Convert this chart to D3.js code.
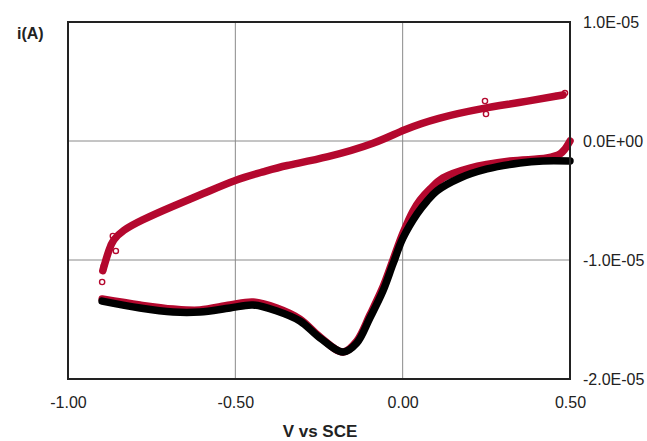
<!DOCTYPE html>
<html>
<head>
<meta charset="utf-8">
<script src="https://cdn.jsdelivr.net/npm/d3@7"></script>
<style>
  html, body { margin: 0; padding: 0; background: #fff; }
  svg { display: block; }
  text { font-family: "Liberation Sans", Arial, sans-serif; fill: #222; }
</style>
</head>
<body>
<svg id="chart" width="647" height="441"></svg>
<script>
// ---- data (V vs SCE, current in A) ----
const xTicks = [-1.0, -0.5, 0.0, 0.5];
const yTicks = [1e-5, 0, -1e-5, -2e-5];
const yTickLabels = ["1.0E-05", "0.0E+00", "-1.0E-05", "-2.0E-05"];

// red: return (upper) branch
const redUpperV = [-0.896, -0.888, -0.878, -0.866, -0.836, -0.785, -0.686, -0.597, -0.501, -0.411, -0.358, -0.226, -0.077, 0.001, 0.102, 0.240, 0.342, 0.479];
const redUpperI = [-10.9e-6, -10.1e-6, -9.2e-6, -8.3e-6, -7.5e-6, -6.7e-6, -5.46e-6, -4.45e-6, -3.25e-6, -2.55e-6, -2.10e-6, -1.40e-6, -0.17e-6, 0.95e-6, 1.93e-6, 2.77e-6, 3.19e-6, 3.87e-6];

// red: forward (lower) branch
const redLowerV = [-0.898, -0.785, -0.686, -0.606, -0.516, -0.447, -0.376, -0.307, -0.247, -0.178, -0.137, -0.098, -0.059, -0.029, 0.001, 0.031, 0.052, 0.082, 0.120, 0.201, 0.321, 0.431, 0.470, 0.485, 0.500];
const redLowerI = [-13.28e-6, -13.78e-6, -14.12e-6, -14.20e-6, -13.78e-6, -13.53e-6, -14.03e-6, -14.96e-6, -16.47e-6, -17.73e-6, -16.81e-6, -14.62e-6, -12.27e-6, -10.00e-6, -7.73e-6, -5.88e-6, -4.96e-6, -4.03e-6, -3.11e-6, -2.27e-6, -1.68e-6, -1.43e-6, -1.09e-6, -0.67e-6, 0.0];

// red scattered points (isolated markers)
const redScatterV = [-0.898, -0.866, -0.857, -0.893, 0.246, 0.249, 0.458, 0.485];
const redScatterI = [-11.85e-6, -7.98e-6, -9.24e-6, -10.5e-6, 3.36e-6, 2.27e-6, 3.78e-6, 4.03e-6];

// black series
const blackV = [-0.898, -0.785, -0.686, -0.606, -0.516, -0.447, -0.376, -0.307, -0.247, -0.178, -0.137, -0.098, -0.059, -0.029, 0.001, 0.043, 0.073, 0.102, 0.171, 0.252, 0.350, 0.419, 0.500];
const blackI = [-13.45e-6, -14.03e-6, -14.37e-6, -14.37e-6, -14.03e-6, -13.78e-6, -14.29e-6, -15.13e-6, -16.55e-6, -17.73e-6, -16.97e-6, -14.87e-6, -12.61e-6, -10.34e-6, -8.15e-6, -6.13e-6, -5.04e-6, -4.20e-6, -3.11e-6, -2.35e-6, -1.85e-6, -1.68e-6, -1.68e-6];

// ---- layout ----
const svg = d3.select("#chart");
const mLeft = 68, mRight = 570, mTop = 22, mBottom = 379;
const RED = "#b4082e";

const x = d3.scaleLinear().domain([-1.0, 0.5]).range([mLeft, mRight]);
const y = d3.scaleLinear().domain([-2e-5, 1e-5]).range([mBottom, mTop]);

// gridlines
const g = svg.append("g");
g.selectAll("line.vx").data(xTicks).enter().append("line")
  .attr("x1", d => x(d)).attr("x2", d => x(d))
  .attr("y1", mTop).attr("y2", mBottom)
  .attr("stroke", "#8a8a8a").attr("stroke-width", 1);
g.selectAll("line.hy").data(yTicks).enter().append("line")
  .attr("x1", mLeft).attr("x2", mRight)
  .attr("y1", d => y(d)).attr("y2", d => y(d))
  .attr("stroke", "#8a8a8a").attr("stroke-width", 1);

// series
const zip = (a, b) => a.map((v, i) => [v, b[i]]);
const line = d3.line().x(d => x(d[0])).y(d => y(d[1])).curve(d3.curveCatmullRom.alpha(0.5));
const smooth = d3.line().x(d => x(d[0])).y(d => y(d[1])).curve(d3.curveBasis);

const plot = svg.append("g");
plot.append("path").datum(zip(redUpperV, redUpperI))
  .attr("d", smooth).attr("fill", "none").attr("stroke", RED)
  .attr("stroke-width", 7.5).attr("stroke-linecap", "round").attr("stroke-linejoin", "round");
plot.append("path").datum(zip(redLowerV, redLowerI))
  .attr("d", line).attr("fill", "none").attr("stroke", RED)
  .attr("stroke-width", 7.5).attr("stroke-linecap", "round").attr("stroke-linejoin", "round");
plot.selectAll("circle.rs").data(zip(redScatterV, redScatterI)).enter().append("circle")
  .attr("cx", d => x(d[0])).attr("cy", d => y(d[1])).attr("r", 2.6)
  .attr("fill", "none").attr("stroke", RED).attr("stroke-width", 1.4);
plot.append("path").datum(zip(blackV, blackI))
  .attr("d", line).attr("fill", "none").attr("stroke", "#000")
  .attr("stroke-width", 7.5).attr("stroke-linecap", "round").attr("stroke-linejoin", "round");

// frame
svg.append("rect").attr("x", mLeft).attr("y", mTop)
  .attr("width", mRight - mLeft).attr("height", mBottom - mTop)
  .attr("fill", "none").attr("stroke", "#222").attr("stroke-width", 2);

// axes (labels only, via d3 axes)
const xAxis = d3.axisBottom(x).tickValues(xTicks).tickFormat(d3.format(".2f")).tickSize(0).tickPadding(0);
const xg = svg.append("g").attr("transform", `translate(0,${mBottom + 29})`).call(xAxis);
xg.select(".domain").remove();
xg.selectAll("text").attr("dy", null).attr("y", 0)
  .text(d => d3.format(".2f")(d).replace("\u2212", "-"))
  .style("font-size", "16px").style("font-family", "'Liberation Sans', Arial, sans-serif").attr("fill", "#222");

const yAxis = d3.axisRight(y).tickValues(yTicks).tickFormat((d, i) => yTickLabels[i]).tickSize(0).tickPadding(13);
const yg = svg.append("g").attr("transform", `translate(${mRight},0)`).call(yAxis);
yg.select(".domain").remove();
yg.selectAll("text").attr("dy", "0.36em")
  .style("font-size", "16px").style("font-family", "'Liberation Sans', Arial, sans-serif").attr("fill", "#222");

// titles
svg.append("text").attr("x", 17).attr("y", 39)
  .style("font-size", "16px").style("font-weight", "bold").text("i(A)");
svg.append("text").attr("x", 320).attr("y", 437).attr("text-anchor", "middle")
  .style("font-size", "17px").style("font-weight", "bold").text("V vs SCE");
</script>
</body>
</html>
